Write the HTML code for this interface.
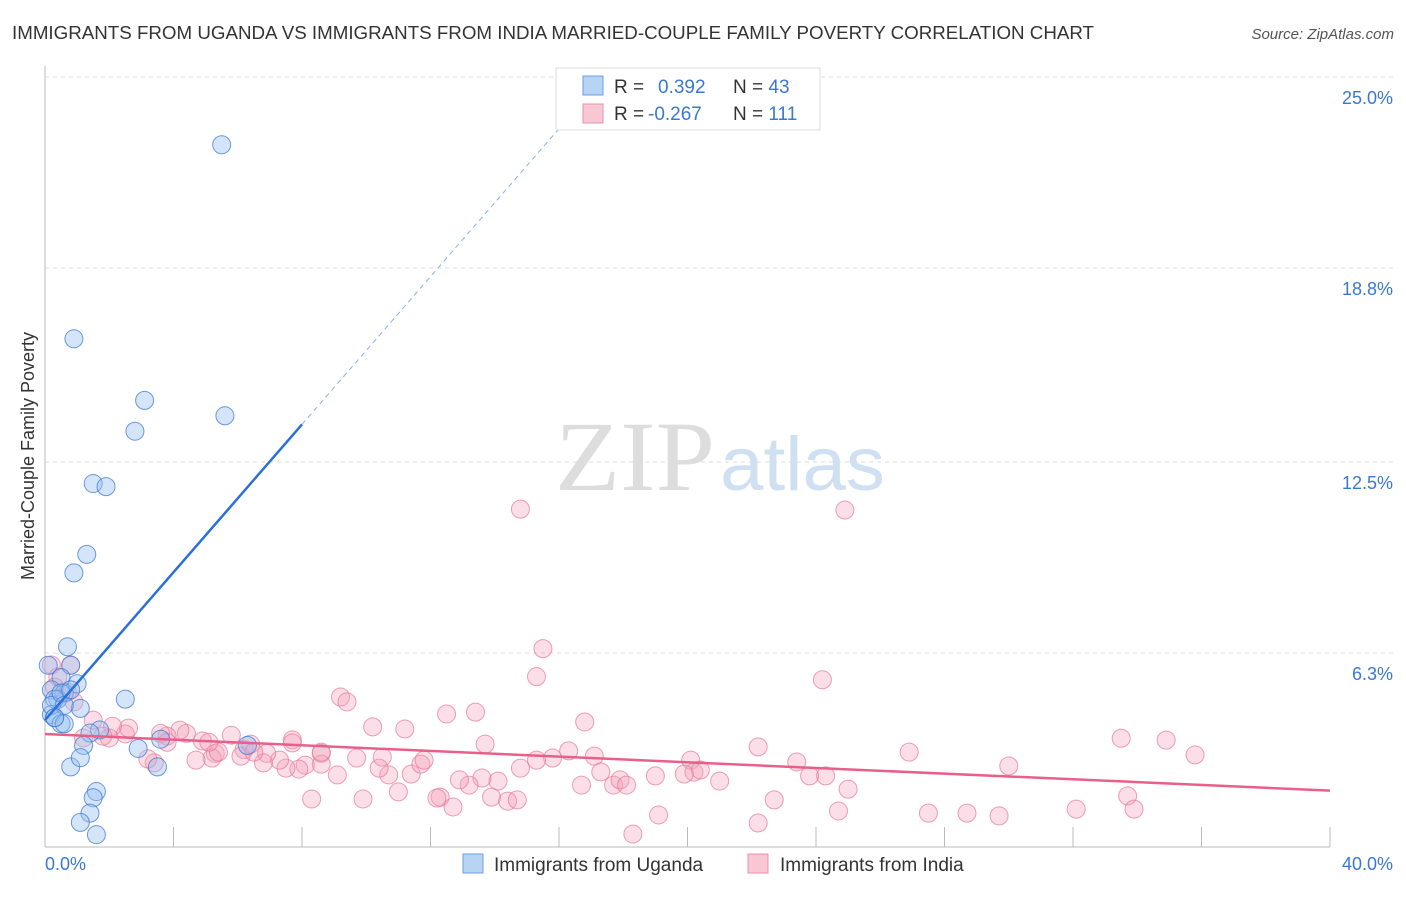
<!DOCTYPE html>
<html><head><meta charset="utf-8"><style>
body{margin:0;background:#fff;font-family:"Liberation Sans",sans-serif}
</style></head><body>
<svg width="1406" height="892" xmlns="http://www.w3.org/2000/svg" id="chart">
<text x="12" y="39" font-size="18" fill="#333" textLength="1082" lengthAdjust="spacingAndGlyphs">IMMIGRANTS FROM UGANDA VS IMMIGRANTS FROM INDIA MARRIED-COUPLE FAMILY POVERTY CORRELATION CHART</text>
<text x="1394" y="39" font-size="15" fill="#555" font-style="italic" text-anchor="end">Source: ZipAtlas.com</text>
<text x="555" y="490" font-size="100" fill="#ddd" font-family="Liberation Serif" textLength="160" lengthAdjust="spacingAndGlyphs">ZIP</text>
<text x="720" y="490" font-size="76" fill="#cfe0f3" textLength="165" lengthAdjust="spacingAndGlyphs">atlas</text>
<g id="grid"></g><g id="axes"></g><g id="pts"></g><g id="lines"></g>
<text x="34" y="456" font-size="18" fill="#333" text-anchor="middle" transform="rotate(-90 34 456)">Married-Couple Family Poverty</text>
<g>
<rect x="556" y="68" width="264" height="62" fill="#fff" stroke="#ddd"/>
<rect x="583" y="76" width="20" height="19" fill="#b8d4f4" stroke="#6a9fe0"/>
<rect x="583" y="104" width="20" height="19" fill="#f9c6d4" stroke="#e890a8"/>
<text x="614" y="93" font-size="19" fill="#333">R = <tspan x="658" fill="#3a78d4">0.392</tspan><tspan x="733">N = </tspan><tspan fill="#3a78d4">43</tspan></text>
<text x="614" y="120" font-size="19" fill="#333">R = <tspan x="648" fill="#3a78d4">-0.267</tspan><tspan x="733">N = </tspan><tspan fill="#3a78d4">111</tspan></text>
</g>
<g>
<rect x="463" y="854" width="20" height="19" fill="#b8d4f4" stroke="#6a9fe0"/>
<text x="494" y="871" font-size="19" fill="#333">Immigrants from Uganda</text>
<rect x="748" y="854" width="20" height="19" fill="#f9c6d4" stroke="#e890a8"/>
<text x="780" y="871" font-size="19" fill="#333">Immigrants from India</text>
</g>
</svg>
<script>
const yTicks=[6.3,12.5,18.8,25.0];
const xTickLabels=["0.0%","40.0%"];
const ugandaX=[5.5,0.9,3.1,5.6,2.8,1.5,1.9,1.3,0.9,0.7,0.8,2.5,1.0,0.5,0.2,0.6,0.4,1.1,0.3,0.2,0.3,0.5,0.6,1.7,1.4,1.2,2.9,3.5,0.8,1.1,1.6,1.5,1.4,1.1,1.6,6.3,3.6,0.2,0.1,0.5,0.6,0.3,0.8];
const ugandaY=[22.8,16.5,14.5,14.0,13.5,11.8,11.7,9.5,8.9,6.5,5.9,4.8,5.3,5.5,5.1,5.0,4.8,4.5,4.8,4.3,4.2,4.0,4.0,3.8,3.7,3.3,3.2,2.6,2.6,2.9,1.8,1.6,1.1,0.8,0.4,3.3,3.5,4.6,5.9,5.0,4.6,4.2,5.1];
const indiaX=[14.8,24.9,15.5,15.3,24.2,9.2,9.4,16.8,12.5,13.4,10.2,11.2,33.5,34.9,35.8,26.9,22.2,13.7,16.3,17.1,15.8,15.3,20.1,20.2,20.4,23.4,23.8,24.3,25.0,30.0,19.0,19.9,17.3,16.7,17.7,17.9,18.1,21.0,14.8,14.1,13.6,13.2,12.9,12.3,12.2,12.7,13.9,14.4,14.7,22.7,19.1,22.2,18.3,24.7,27.5,28.7,29.7,32.1,33.7,33.9,8.3,9.9,11.0,10.7,11.4,11.7,11.8,10.4,10.5,9.7,9.1,8.6,8.6,8.1,7.9,7.5,7.3,6.9,6.8,6.2,6.1,5.8,6.4,6.5,5.3,5.2,4.9,4.7,4.4,4.2,3.8,3.6,3.4,3.2,2.5,2.6,2.1,2.0,1.8,1.5,1.2,0.8,0.2,0.4,0.7,0.3,0.9,7.7,7.7,8.6,3.8,5.4,5.1];
const indiaY=[10.97,10.94,6.44,5.53,5.43,4.87,4.71,4.06,4.32,4.38,3.90,3.83,3.53,3.47,2.99,3.08,3.25,3.34,3.12,2.95,2.89,2.82,2.82,2.43,2.50,2.76,2.31,2.31,1.88,2.63,2.31,2.37,2.44,2.01,2.01,2.18,2.01,2.14,2.56,2.14,2.24,2.01,2.18,1.62,1.59,1.30,1.62,1.49,1.53,1.53,1.04,0.78,0.42,1.17,1.10,1.10,1.01,1.23,1.66,1.23,1.56,1.56,1.79,2.34,2.37,2.69,2.82,2.56,2.92,2.89,2.34,3.04,2.69,2.66,2.53,2.56,2.82,3.04,2.73,3.16,2.95,3.63,3.34,3.08,3.04,2.89,3.44,2.82,3.69,3.79,3.60,3.69,2.73,2.86,3.67,3.86,3.92,3.54,3.60,4.12,3.54,5.91,5.91,5.52,5.03,5.19,4.71,3.48,3.38,3.08,3.40,3.08,3.40];
const ugandaFit=[4.12,1.2];
const indiaFit=[3.67,-0.046];
const NS="http://www.w3.org/2000/svg";
const X0=45,X1=1330,Y0=847,PXX=(X1-X0)/40,PXY=30.8;
function xs(v){return X0+v*PXX}
function ys(v){return Y0-v*PXY}
function mk(tag,attrs,parent){const e=document.createElementNS(NS,tag);for(const k in attrs)e.setAttribute(k,attrs[k]);document.getElementById(parent).appendChild(e);return e}
yTicks.forEach(t=>{
 const l=mk('line',{x1:X0,x2:1395,y1:ys(t),y2:ys(t),stroke:'#ddd','stroke-dasharray':'4,4'},'grid');
 
 
 const tx=mk('text',{x:1393,y:ys(t)+27,'font-size':18,fill:'#3a78d4','text-anchor':'end'},'grid');
 tx.textContent=t.toFixed(1)+'%';
 
 
});
let a=mk('line',{x1:X0,x2:X0,y1:66,y2:Y0,stroke:'#bbb'},'axes');


a=mk('line',{x1:X0,x2:X1,y1:Y0,y2:Y0,stroke:'#bbb'},'axes');


for(let i=1;i<=10;i++){const t=mk('line',{x1:xs(i*4),x2:xs(i*4),y1:Y0-20,y2:Y0,stroke:'#bbb'},'axes');
 
 }
[[0,'start',X0],[1,'end',1393]].forEach(([i,anc,x])=>{const t=mk('text',{x:x,y:870,'font-size':18,fill:'#3a78d4','text-anchor':anc},'axes');t.textContent=xTickLabels[i];
 
 });
indiaX.forEach((v,i)=>{const c=mk('circle',{cx:xs(v),cy:ys(indiaY[i]),r:9,fill:'rgba(244,160,185,0.35)',stroke:'rgba(230,120,150,0.7)'},'pts');
 
 });
ugandaX.forEach((v,i)=>{const c=mk('circle',{cx:xs(v),cy:ys(ugandaY[i]),r:9,fill:'rgba(150,190,240,0.4)',stroke:'rgba(60,120,210,0.75)'},'pts');
 
 });
const fu=x=>ugandaFit[0]+ugandaFit[1]*x, fi=x=>indiaFit[0]+indiaFit[1]*x;
let l=mk('line',{x1:xs(0),y1:ys(fu(0)),x2:xs(8),y2:ys(fu(8)),stroke:'#2a6fdb','stroke-width':2.5},'lines');


const xe=(24.5-ugandaFit[0])/ugandaFit[1];
l=mk('line',{x1:xs(8),y1:ys(fu(8)),x2:xs(xe),y2:ys(fu(xe)),stroke:'#8ab0e8','stroke-width':1,'stroke-dasharray':'5,4'},'lines');


l=mk('line',{x1:xs(0),y1:ys(fi(0)),x2:xs(40),y2:ys(fi(40)),stroke:'#e8608a','stroke-width':2.5},'lines');


</script>
</body></html>
